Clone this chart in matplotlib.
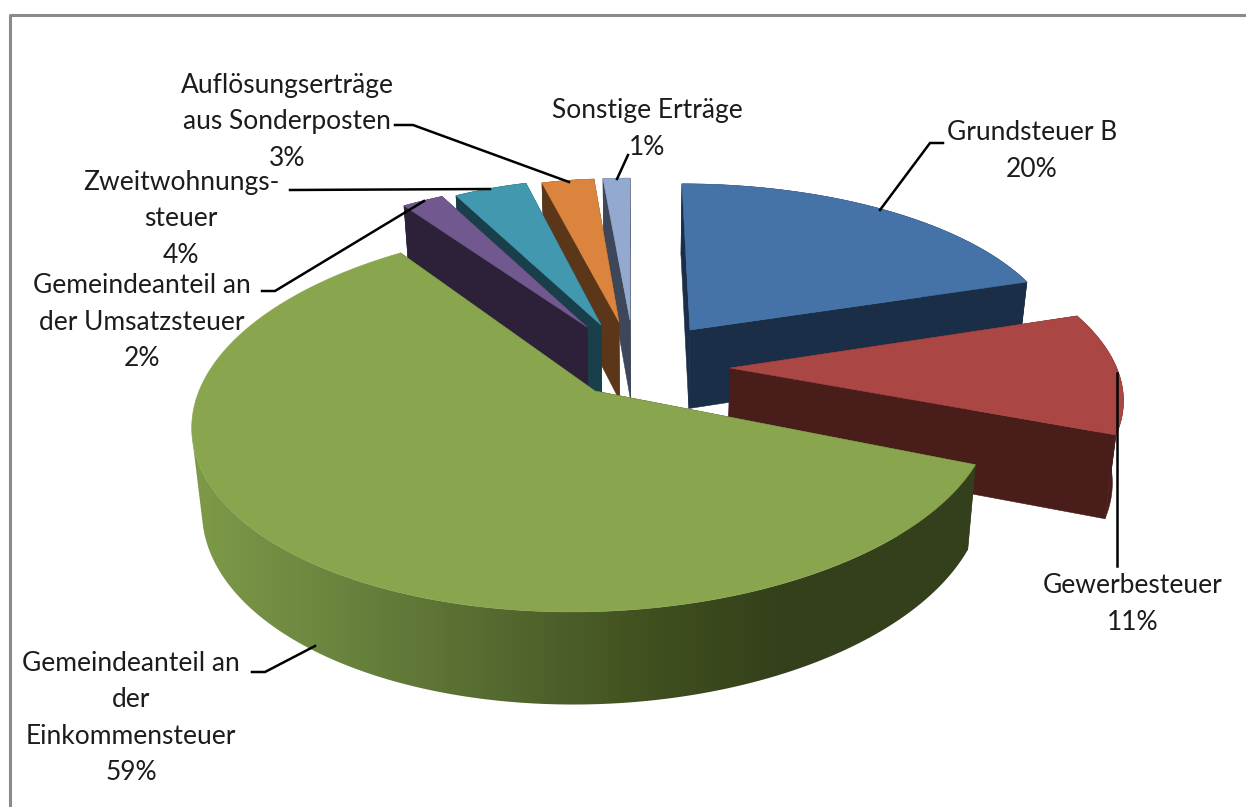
import numpy as np
import matplotlib
matplotlib.use("Agg")
import matplotlib.pyplot as plt
from matplotlib.colors import LinearSegmentedColormap
from matplotlib.patches import Polygon

# clockwise from 12 o'clock, percent
slice_names = ["Grundsteuer B", "Gewerbesteuer", "Gemeindeanteil an\nder\nEinkommensteuer",
               "Gemeindeanteil an\nder Umsatzsteuer", "Zweitwohnungs-\nsteuer",
               "Auflösungserträge\naus Sonderposten", "Sonstige Erträge"]
slice_values = [20, 11, 59, 2, 4, 3, 1]

top_colors = ["#4572a7", "#aa4643", "#89a54e", "#71588f", "#4198af", "#db843d", "#93a9cf"]
side_colors = ["#1a2e47", "#481d1a", None, "#2c2139", "#183f4a", "#5c3618", "#3e4759"]
# stops run over the image extent used for the rim, x 180 to 990
green_side = LinearSegmentedColormap.from_list(
    "green_side", [(0, "#7f9c49"), (0.17, "#6d8740"), (0.39, "#556a30"),
                   (0.58, "#40501f"), (0.74, "#35401b"), (1, "#343f1b")])

# apex x, apex y, s, g, t, k for each slice: Excel's exploded 3d pie is not a
# clean projection, so every slice gets its own squashed circle
shapes = [
    (690, 330, 367.5, 8.8, 160, 0.095),
    (730, 368, 386.7, 27.3, 174.3, 0.115),
    (595, 391, 396, -20, 190, 0.14),
    (587, 327, 365, -20.7, 162, 0.1),
    (601, 325, 324, 1.8, 160.5, 0.1),
    (619, 322, 307.8, 8.2, 157.5, 0.1),
    (630, 320, 473, 0, 156, 0.1),
]

label_pos = [(1032, 151), (1133, 604), (131, 718), (142, 322), (181, 219), (287, 122), (647, 129)]
leaders = [
    ([880, 930, 943], [210, 143, 143]),
    ([1117, 1117], [373, 566]),
    ([252, 265, 315], [672, 672, 646]),
    ([262, 275, 424], [291, 291, 201]),
    ([290, 490], [190, 189]),
    ([395, 413, 569], [125, 125, 182]),
    ([617, 628], [179, 155]),
]


def rim_point(shape, theta):
    ax_, ay, s, g, t, k = shape
    x_w, y_w = np.sin(theta), -np.cos(theta)
    w = 1 - k * y_w
    return ax_ + (s * x_w + g * y_w) / w, ay + t * y_w / w


def drop(x, y):
    # thickness grows towards the viewer, verticals lean in a little
    return x + (640 - x) * 0.023, y + 62 + 0.05 * y


def draw_slice(ax, shape, start, end, top_color, side_color):
    thetas = np.linspace(start, end, max(4, int(np.degrees(end - start))))
    xs, ys = rim_point(shape, thetas)
    xb, yb = drop(xs, ys)
    apex = shape[:2]
    apex_b = drop(*apex)
    if side_color is None:
        # only the big slice has the shaded rim, stop it at the left silhouette
        # or the outline folds over itself and the clip loses a corner
        front = thetas < np.radians(256)
        rim = list(zip(xs[front], ys[front])) + list(zip(xb[front][::-1], yb[front][::-1]))
        rim_patch = Polygon(rim, fc="none", ec="none")
        ax.add_patch(rim_patch)
        im = ax.imshow(np.linspace(0, 1, 512).reshape(1, -1), cmap=green_side, aspect="auto",
                       extent=(180, 990, 807, 0), zorder=1)
        im.set_clip_path(rim_patch)
    else:
        rim = list(zip(xs, ys)) + list(zip(xb[::-1], yb[::-1]))
        ax.add_patch(Polygon(rim, fc=side_color, ec=side_color, lw=0.4))
    flat = side_color if side_color is not None else green_side(1.0)
    ax.add_patch(Polygon([apex, (xs[-1], ys[-1]), (xb[-1], yb[-1]), apex_b], fc=flat, ec=flat, lw=0.4))
    ax.add_patch(Polygon([apex, (xs[0], ys[0]), (xb[0], yb[0]), apex_b], fc=flat, ec=flat, lw=0.4))
    ax.add_patch(Polygon([apex] + list(zip(xs, ys)), fc=top_color, ec=top_color, lw=0.4))


plt.rcParams["font.family"] = "Lato"
fig = plt.figure(figsize=(12.46, 8.07), dpi=100)
ax = fig.add_axes([0, 0, 1, 1])
ax.set_xlim(0, 1246)
ax.set_ylim(807, 0)
ax.autoscale(False)
ax.axis("off")

# chart frame, open to the right and bottom of the crop
ax.plot([10, 10, 1246], [807, 15, 15], color="#8a8a8a", lw=2.2)

edges = np.radians(np.cumsum([0] + slice_values) * 3.6)
# back slices first so the front ones cover them
for i in [6, 5, 4, 3, 0, 1, 2]:
    draw_slice(ax, shapes[i], edges[i], edges[i + 1], top_colors[i], side_colors[i])

for xs, ys in leaders:
    ax.plot(xs, ys, color="black", lw=1.8, solid_joinstyle="miter")

for name, value, (x, y) in zip(slice_names, slice_values, label_pos):
    ax.text(x, y, f"{name}\n{value}%", ha="center", va="center",
            fontsize=19, color="#1c1c1c", linespacing=1.58)

fig.savefig("out.png", dpi=100)
